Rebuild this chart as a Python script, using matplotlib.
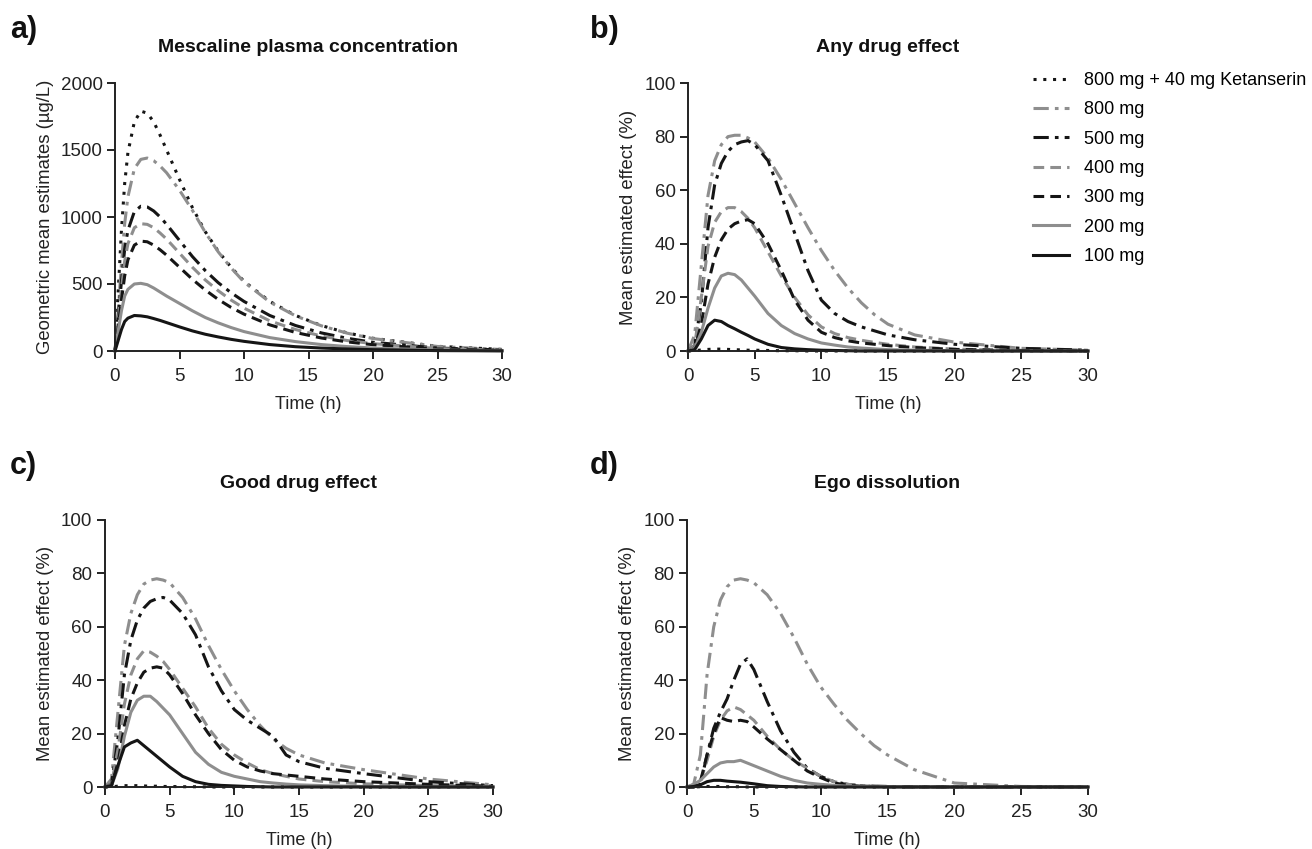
import numpy as np
import matplotlib
matplotlib.use("Agg")
import matplotlib.pyplot as plt
from matplotlib.lines import Line2D

plt.rcParams['font.family'] = ['Liberation Sans', 'DejaVu Sans']

# doses (legend order)
doses = ['800 mg + 40 mg Ketanserin', '800 mg', '500 mg', '400 mg', '300 mg', '200 mg', '100 mg']

# time grid for plasma panel
t_pk = [0, 0.25, 0.5, 0.75, 1, 1.5, 2, 2.5, 3, 3.5, 4, 5, 6, 7, 8, 9, 10, 12, 14, 16, 18, 20, 25, 30]
pk_ket = [0, 450, 900, 1250, 1480, 1710, 1790, 1775, 1710, 1610, 1500, 1280, 1070, 890, 745, 625, 520, 370, 265, 190, 135, 95, 35, 12]
pk_800 = [0, 300, 650, 950, 1150, 1360, 1430, 1440, 1420, 1380, 1330, 1200, 1050, 885, 740, 620, 515, 365, 262, 188, 133, 93, 34, 11]
pk_500 = [0, 250, 520, 760, 900, 1040, 1080, 1075, 1045, 1000, 945, 825, 705, 600, 510, 435, 370, 265, 190, 135, 95, 65, 22, 8]
pk_400 = [0, 220, 460, 670, 800, 920, 950, 945, 920, 880, 835, 730, 625, 530, 450, 380, 320, 225, 160, 112, 78, 55, 18, 6]
pk_300 = [0, 180, 380, 560, 680, 790, 820, 815, 790, 755, 715, 625, 535, 455, 385, 325, 275, 195, 138, 97, 68, 47, 15, 5]
pk_200 = [0, 150, 300, 410, 460, 500, 505, 495, 470, 440, 410, 355, 300, 250, 210, 175, 145, 100, 70, 48, 33, 22, 7, 2]
pk_100 = [0, 80, 160, 220, 245, 265, 262, 255, 242, 228, 212, 180, 150, 125, 105, 87, 72, 48, 32, 22, 15, 10, 3, 1]

# time grid for effect panels
t_eff = [0, 0.5, 1, 1.5, 2, 2.5, 3, 3.5, 4, 4.5, 5, 6, 7, 8, 9, 10, 11, 12, 13, 14, 15, 17, 20, 25, 30]

any_ket = [0, 0.1, 0.4, 0.6, 0.7, 0.7, 0.6, 0.5, 0.4, 0.3, 0.3, 0.2, 0.1, 0.1, 0, 0, 0, 0, 0, 0, 0, 0, 0, 0, 0]
any_800 = [0, 6, 32, 58, 71, 77, 80, 80.5, 80.5, 79.5, 78, 72, 64, 55, 46, 37.5, 30, 23.5, 18, 13.5, 10, 6, 3.3, 1, 0.3]
any_500 = [0, 2, 18, 46, 62, 70, 74.5, 77, 78, 78.5, 77, 71, 58, 44, 30, 19, 14, 11, 9, 7.5, 6, 4.2, 2.5, 1, 0.3]
any_400 = [0, 2, 20, 39, 48, 52, 53.5, 53.5, 52, 49.5, 46, 37, 28, 20, 13.5, 9, 6.5, 5, 4, 3.2, 2.5, 1.5, 0.7, 0.2, 0]
any_300 = [0, 1, 10, 25, 35, 41.5, 45.5, 47.5, 48.5, 49, 47.5, 40, 30, 19, 11.5, 7, 5, 3.8, 3, 2.5, 2, 1.3, 0.6, 0.2, 0]
any_200 = [0, 1, 7, 16, 23.5, 28, 29, 28.5, 26.5, 23.5, 20.5, 14, 9.5, 6.5, 4.5, 3, 2.2, 1.5, 1.1, 0.8, 0.5, 0.3, 0.1, 0, 0]
any_100 = [0, 0.5, 4.5, 9.5, 11.5, 11, 9.5, 8.3, 7, 5.8, 4.5, 2.5, 1.3, 0.8, 0.5, 0.3, 0.2, 0.1, 0, 0, 0, 0, 0, 0, 0]

good_ket = [0, 0.1, 0.3, 0.5, 0.5, 0.5, 0.4, 0.3, 0.3, 0.2, 0.2, 0.1, 0.1, 0, 0, 0, 0, 0, 0, 0, 0, 0, 0, 0, 0]
good_800 = [0, 3, 28, 53, 65, 72, 76, 77.5, 78, 77.5, 76.5, 71, 63, 53, 44, 36, 29, 23, 18, 14.5, 12, 9, 6.5, 3, 0.8]
good_500 = [0, 1, 18, 42, 55, 62.5, 67, 69.5, 70.5, 71, 70, 65, 57, 45, 36, 29, 25, 22, 19, 12, 9.5, 7, 5, 2, 0.5]
good_400 = [0, 1, 14, 31, 42, 48, 51, 50.5, 49, 47, 44, 37, 30, 22, 16, 12, 9, 6.5, 5, 4, 3, 2, 1.2, 0.5, 0.2]
good_300 = [0, 0.5, 9, 23, 33, 39, 43, 44.5, 45, 44.5, 42, 35, 27, 20, 14, 10, 7.5, 6, 5, 4.5, 4, 3, 2, 1, 0.3]
good_200 = [0, 0.5, 7, 19, 28, 32.5, 34, 34, 32, 29.5, 27, 20, 13, 8.5, 5.5, 4, 3, 2, 1.5, 1.1, 0.8, 0.5, 0.2, 0, 0]
good_100 = [0, 0.5, 8, 15, 16.5, 17.5, 15.5, 13.5, 11.5, 9.5, 7.5, 4, 2, 1, 0.6, 0.4, 0.2, 0.1, 0, 0, 0, 0, 0, 0, 0]

ego_ket = [0, 0, 0.1, 0.2, 0.2, 0.2, 0.1, 0.1, 0.1, 0, 0, 0, 0, 0, 0, 0, 0, 0, 0, 0, 0, 0, 0, 0, 0]
ego_800 = [0, 1, 12, 42, 60, 70, 75, 77.5, 78, 77.5, 76.5, 72, 65, 56, 46, 37.5, 31, 25, 20, 15.5, 12, 6.5, 1.5, 0.2, 0]
ego_500 = [0, 0, 1, 12, 22, 28, 33, 40, 46, 48, 44, 32, 21, 13, 7, 4, 2, 1, 0.5, 0.3, 0.2, 0.1, 0, 0, 0]
ego_400 = [0, 0, 2, 10, 19, 25, 28.5, 30, 29, 27, 25, 19, 14, 10, 7, 4, 2, 1, 0.5, 0.3, 0.2, 0.1, 0, 0, 0]
ego_300 = [0, 0, 2, 12, 20, 26, 25, 24.5, 25, 24.5, 22.5, 18, 14, 10, 6, 3.5, 1.5, 0.7, 0.3, 0.2, 0.1, 0, 0, 0, 0]
ego_200 = [0, 1, 2.5, 5, 7.5, 9, 9.5, 9.5, 10, 9, 8, 6, 4, 2.5, 1.5, 1, 0.6, 0.3, 0.2, 0.1, 0.1, 0, 0, 0, 0]
ego_100 = [0, 0.2, 0.8, 2, 2.5, 2.5, 2.2, 2, 1.8, 1.5, 1.2, 0.5, 0.2, 0.1, 0, 0, 0, 0, 0, 0, 0, 0, 0, 0, 0]

BLACK = '#151515'
GREY = '#8e8e8e'
styles = [
    (BLACK, (0, (1, 2.2))),
    (GREY, (0, (5, 2, 1.2, 2))),
    (BLACK, (0, (5, 2, 1.2, 2))),
    (GREY, (0, (3.5, 2))),
    (BLACK, (0, (3.5, 2))),
    (GREY, '-'),
    (BLACK, '-'),
]

W, H = 1312, 849
fig = plt.figure(figsize=(W / 100, H / 100), dpi=100)


def px_axes(left, right, top, bottom):
    return fig.add_axes([left / W, 1 - bottom / H, (right - left) / W, (bottom - top) / H])


panels = [
    dict(box=(115, 502, 83, 351), t=t_pk,
         series=[pk_ket, pk_800, pk_500, pk_400, pk_300, pk_200, pk_100],
         ymax=2000, yticks=[0, 500, 1000, 1500, 2000],
         ylabel='Geometric mean estimates (µg/L)',
         title='Mescaline plasma concentration', tag='a)', tagpos=(10, 30), titley=47),
    dict(box=(688, 1088, 83, 351), t=t_eff,
         series=[any_ket, any_800, any_500, any_400, any_300, any_200, any_100],
         ymax=100, yticks=[0, 20, 40, 60, 80, 100],
         ylabel='Mean estimated effect (%)',
         title='Any drug effect', tag='b)', tagpos=(590, 30), titley=47),
    dict(box=(105, 493, 520, 787), t=t_eff,
         series=[good_ket, good_800, good_500, good_400, good_300, good_200, good_100],
         ymax=100, yticks=[0, 20, 40, 60, 80, 100],
         ylabel='Mean estimated effect (%)',
         title='Good drug effect', tag='c)', tagpos=(10, 466), titley=483),
    dict(box=(687, 1088, 520, 787), t=t_eff,
         series=[ego_ket, ego_800, ego_500, ego_400, ego_300, ego_200, ego_100],
         ymax=100, yticks=[0, 20, 40, 60, 80, 100],
         ylabel='Mean estimated effect (%)',
         title='Ego dissolution', tag='d)', tagpos=(590, 466), titley=483),
]

for p in panels:
    l, r, tp, b = p['box']
    ax = px_axes(l, r, tp, b)
    for vals, (col, ls) in zip(p['series'], styles):
        ax.plot(p['t'], vals, color=col, linestyle=ls, lw=2.2, clip_on=False)
    ax.set_xlim(0, 30)
    ax.set_ylim(0, p['ymax'])
    ax.set_xticks([0, 5, 10, 15, 20, 25, 30])
    ax.set_yticks(p['yticks'])
    for s in ['top', 'right']:
        ax.spines[s].set_visible(False)
    for s in ['left', 'bottom']:
        ax.spines[s].set_linewidth(1.4)
        ax.spines[s].set_color('#222222')
    ax.tick_params(direction='out', length=6, width=1.4, labelsize=13.5,
                   colors='#222222')
    ax.tick_params(axis='x', pad=6)
    ax.tick_params(axis='y', pad=3)
    ax.set_xlabel('Time (h)', fontsize=13, color='#222222', labelpad=8)
    ax.set_ylabel(p['ylabel'], fontsize=13.3, color='#222222', labelpad=5)
    fig.text((l + r) / 2 / W, 1 - p['titley'] / H, p['title'], ha='center', va='center',
             fontsize=14, fontweight='bold', color='#111111')
    fig.text(p['tagpos'][0] / W, 1 - p['tagpos'][1] / H, p['tag'], ha='left', va='center',
             fontsize=22, fontweight='bold', color='#111111')

handles = [Line2D([], [], color=c, linestyle=ls, lw=2.2) for c, ls in styles]
fig.legend(handles, doses, loc='upper left', bbox_to_anchor=(1026 / W, 1 - 65 / H),
           frameon=False, fontsize=13, handlelength=2.0, handletextpad=0.8,
           labelspacing=0.68, borderaxespad=0)

fig.savefig('out.png', dpi=100)
